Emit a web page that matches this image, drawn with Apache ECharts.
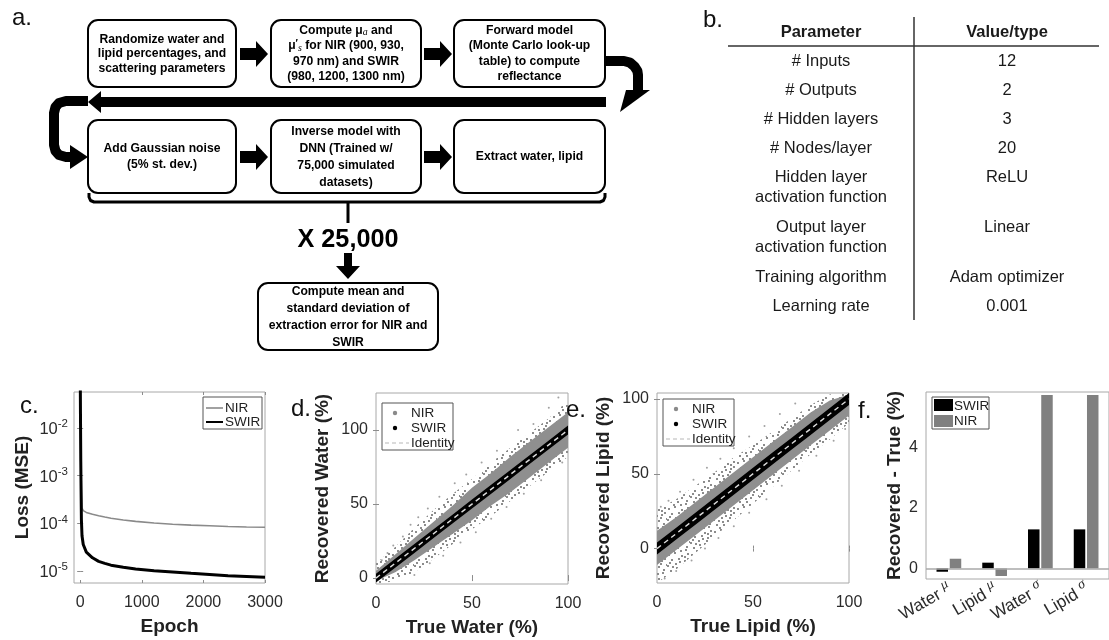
<!DOCTYPE html>
<html>
<head>
<meta charset="utf-8">
<script src="https://cdn.jsdelivr.net/npm/echarts@6/dist/echarts.min.js"></script>
<style>
  html, body { margin: 0; padding: 0; background: #fff; }
  #chart { width: 1109px; height: 640px; }
</style>
</head>
<body>
<div id="chart"></div>
<script>
// ---- c. training loss (MSE) per epoch ----
const epochs   = [0, 5, 10, 20, 30, 50, 100, 200, 300, 400, 500, 700, 900, 1200, 1500, 1800, 2100, 2400, 2700, 3000];
const lossNIR  = [0.3, 0.02, 0.003, 5e-4, 2.1e-4, 1.85e-4, 1.7e-4, 1.55e-4, 1.45e-4, 1.36e-4, 1.28e-4, 1.18e-4, 1.1e-4, 1.02e-4, 9.6e-5, 9.2e-5, 8.9e-5, 8.6e-5, 8.4e-5, 8.3e-5];
const lossSWIR = [0.3, 0.02, 0.002, 1.2e-4, 5.5e-5, 3.6e-5, 2.5e-5, 1.9e-5, 1.6e-5, 1.45e-5, 1.33e-5, 1.2e-5, 1.1e-5, 1.02e-5, 9.6e-6, 9.0e-6, 8.5e-6, 8.0e-6, 7.7e-6, 7.4e-6];
const lossTicks = [-5, -4, -3, -2];          // log10 tick positions
const epochTicks = [0, 1000, 2000, 3000];

// ---- d./e. recovered vs true (%), spread of the 25,000 extractions ----
const truePct = [0, 10, 20, 30, 40, 50, 60, 70, 80, 90, 100];
const waterNirOuterLo = [-4, -2, 4, 13, 23, 33, 42, 52, 62, 72, 82];
const waterNirOuterHi = [10, 21, 34, 46, 57, 67, 78, 88, 98, 108, 120];
const waterNirCoreLo  = [-2, 4, 12, 21, 30, 39, 49, 58, 68, 78, 88];
const waterNirCoreHi  = [5, 16, 27, 38, 49, 61, 71, 82, 92, 102, 112];
const waterSwirLo     = [-3, 7, 17, 27, 37, 47, 57, 67, 77, 87, 97];
const waterSwirHi     = [3, 13, 23, 33, 43, 53, 63, 73, 83, 93, 103];
const waterNirStray   = [[3,12],[6,17],[9,22],[14,28],[18,36],[22,41],[27,47],[33,55],[41,64],[47,70],[55,78],[63,86],[74,100],[82,104],[90,115],[95,122],
                         [20,2],[28,10],[35,15],[44,24],[52,31],[60,40],[68,48],[77,57],[86,66],[97,78]];
const lipidNirOuterLo = [-23, -14, -3, 8, 19, 30, 41, 52, 63, 73, 84];
const lipidNirOuterHi = [26, 33, 42, 51, 61, 69, 78, 87, 96, 103, 106];
const lipidNirCoreLo  = [-11, -1, 9, 19, 29, 39, 49, 59, 69, 79, 89];
const lipidNirCoreHi  = [12, 21, 31, 41, 51, 61, 71, 81, 91, 99, 103];
const lipidSwirLo     = [-4, 6, 16, 26, 36, 46, 56, 66, 76, 86, 96];
const lipidSwirHi     = [4, 14, 24, 34, 44, 54, 64, 74, 84, 94, 104];
const lipidNirStray   = [[2,28],[6,32],[12,38],[19,46],[26,54],[33,60],[40,67],[48,75],[56,82],[64,90],[72,97],
                         [4,-20],[10,-15],[18,-8],[25,0],[32,7],[40,15],[48,24],[57,33],[65,42],[74,52],[83,62],[92,72],[98,80]];
const identityLine = [[0, 0], [100, 100]];
const pctTicks = [0, 50, 100];

// ---- f. extraction error (recovered - true, %) ----
const errCategories = ['Water μ', 'Lipid μ', 'Water σ', 'Lipid σ'];
const errSWIR = [-0.11, 0.19, 1.29, 1.29];
const errNIR  = [0.32, -0.25, 5.73, 5.73];
const errTicks = [0, 2, 4];

// ---- b. network parameters ----
const paramNames  = ['# Inputs', '# Outputs', '# Hidden layers', '# Nodes/layer', 'Hidden layer\nactivation function', 'Output layer\nactivation function', 'Training algorithm', 'Learning rate'];
const paramValues = ['12', '2', '3', '20', 'ReLU', 'Linear', 'Adam optimizer', '0.001'];

// ---------------------------------------------------------------
const FONT = '"Liberation Sans", Arial, sans-serif';
const BOX_COLOR = '#a8a8a8';
const GREY = '#8a8a8a';

const chart = echarts.init(document.getElementById('chart'), null, { renderer: 'canvas' });

// stippled fill used for the sparse fringe of the NIR cloud
function speckle(color, size, dots) {
  const c = document.createElement('canvas');
  c.width = c.height = size;
  const g = c.getContext('2d');
  g.fillStyle = color;
  dots.forEach(([x, y]) => g.fillRect(x, y, 2, 2));
  return { image: c, repeat: 'repeat' };
}
const sparseDots = speckle('#8c8c8c', 23, [
  [1,2],[7,0],[14,3],[20,1],[4,7],[11,6],[17,8],[22,12],[0,13],[8,11],[14,14],[3,18],
  [10,18],[19,17],[6,21],[13,21],[17,4],[2,10],[9,15],[16,11],[20,6],[12,9],[5,14],[18,20]
]);

function band(idx, lo, hi, fill, z) {
  return {
    type: 'custom', xAxisIndex: idx, yAxisIndex: idx, clip: true, silent: true, z,
    data: truePct.map((x, i) => [x, lo[i], hi[i]]),
    renderItem(params, api) {
      if (params.dataIndex !== 0) return null;
      const pts = [];
      for (let i = 0; i < truePct.length; i++) pts.push(api.coord([truePct[i], hi[i]]));
      for (let i = truePct.length - 1; i >= 0; i--) pts.push(api.coord([truePct[i], lo[i]]));
      return { type: 'polygon', shape: { points: pts }, style: { fill } };
    }
  };
}

const tickStyle = { inside: true, length: 3, lineStyle: { color: '#8c8c8c' } };
const labelStyle = { color: '#2b2b2b', fontSize: 16, fontFamily: FONT };
const nameStyle = { color: '#222', fontSize: 19, fontWeight: 'bold', fontFamily: FONT };

function valueAxis(gridIndex, min, max, ticks, extra) {
  return Object.assign({
    type: 'value', gridIndex, min, max,
    axisLine: { show: false }, splitLine: { show: false },
    axisTick: Object.assign({ customValues: ticks }, tickStyle),
    axisLabel: Object.assign({ customValues: ticks, margin: 8, formatter: (v) => String(v) }, labelStyle),
    nameLocation: 'middle', nameTextStyle: nameStyle
  }, extra || {});
}
// tick-only axis on the opposite side of a box
function mirrorAxis(gridIndex, min, max, ticks, position) {
  return {
    type: 'value', gridIndex, min, max, position,
    axisLine: { show: false }, splitLine: { show: false }, axisLabel: { show: false },
    axisTick: Object.assign({ customValues: ticks }, tickStyle)
  };
}

const supRich = {
  b: { fontSize: 16.5, fontFamily: FONT, color: '#2b2b2b', lineHeight: 20, verticalAlign: 'bottom' },
  s: { fontSize: 11.5, fontFamily: FONT, color: '#2b2b2b', lineHeight: 11, verticalAlign: 'top' }
};

const option = {
  animation: false,
  backgroundColor: '#fff',
  grid: [
    { left: 74, top: 392, width: 191, height: 191, show: true, borderColor: BOX_COLOR, borderWidth: 1 },
    { left: 376, top: 393, width: 192, height: 191, show: true, borderColor: BOX_COLOR, borderWidth: 1 },
    { left: 657, top: 393, width: 192, height: 190, show: true, borderColor: BOX_COLOR, borderWidth: 1 },
    { left: 926, top: 392, width: 189, height: 187, show: true, borderColor: BOX_COLOR, borderWidth: 1 }
  ],
  xAxis: [
    valueAxis(0, -100, 3000, epochTicks, { name: 'Epoch', nameGap: 34, axisLabel: Object.assign({ customValues: epochTicks, margin: 12, formatter: (v) => String(v) }, labelStyle) }),
    valueAxis(1, 0, 100, pctTicks, { name: 'True Water (%)', nameGap: 34, axisLabel: Object.assign({ customValues: pctTicks, margin: 12 }, labelStyle) }),
    valueAxis(2, 0, 100, pctTicks, { name: 'True Lipid (%)', nameGap: 34, axisLabel: Object.assign({ customValues: pctTicks, margin: 12 }, labelStyle) }),
    {
      type: 'category', gridIndex: 3, data: errCategories,
      axisLine: { show: false }, splitLine: { show: false },
      axisTick: Object.assign({ alignWithLabel: true }, tickStyle),
      axisLabel: {
        rotate: 30, margin: 7, interval: 0,
        formatter: (v) => { const p = v.split(' '); return '{t|' + p[0] + ' }{g|' + p[1] + '}'; },
        rich: {
          t: { fontSize: 17, fontFamily: FONT, color: '#2b2b2b', lineHeight: 21, verticalAlign: 'bottom' },
          g: { fontSize: 14, fontFamily: '"Liberation Serif", serif', fontStyle: 'italic', color: '#2b2b2b', lineHeight: 14, verticalAlign: 'top' }
        }
      }
    },
    mirrorAxis(0, -100, 3000, epochTicks, 'top'),
    mirrorAxis(1, 0, 100, pctTicks, 'top'),
    mirrorAxis(2, 0, 100, pctTicks, 'top')
  ],
  yAxis: [
    valueAxis(0, -5.25, -1.245, lossTicks, {
      name: 'Loss (MSE)', nameGap: 42,
      axisLabel: { customValues: lossTicks, margin: 6, formatter: (v) => '{b|10}{s|' + Math.round(v) + '}', rich: supRich }
    }),
    valueAxis(1, -4, 125, pctTicks, { name: 'Recovered Water (%)', nameGap: 44 }),
    valueAxis(2, -23, 104, pctTicks, { name: 'Recovered Lipid (%)', nameGap: 44 }),
    valueAxis(3, -0.35, 5.83, errTicks, { name: 'Recovered - True (%)', nameGap: 22 }),
    mirrorAxis(0, -5.25, -1.245, lossTicks, 'right'),
    mirrorAxis(1, -4, 125, pctTicks, 'right'),
    mirrorAxis(2, -23, 104, pctTicks, 'right')
  ],
  series: [
    // c.
    { type: 'line', xAxisIndex: 0, yAxisIndex: 0, showSymbol: false, clip: true, z: 3,
      data: epochs.map((e, i) => [e, Math.log10(lossNIR[i])]), lineStyle: { color: GREY, width: 1.6 } },
    { type: 'line', xAxisIndex: 0, yAxisIndex: 0, showSymbol: false, clip: true, z: 4,
      data: epochs.map((e, i) => [e, Math.log10(lossSWIR[i])]), lineStyle: { color: '#000', width: 3 } },

    // d.
    band(1, waterNirOuterLo, waterNirOuterHi, sparseDots, 2),
    band(1, waterNirCoreLo, waterNirCoreHi, '#8f8f8f', 3),
    { type: 'scatter', xAxisIndex: 1, yAxisIndex: 1, symbolSize: 2, itemStyle: { color: GREY }, data: waterNirStray, z: 3, silent: true },
    band(1, waterSwirLo, waterSwirHi, '#000', 4),
    { type: 'line', xAxisIndex: 1, yAxisIndex: 1, showSymbol: false, data: identityLine, z: 5,
      lineStyle: { color: '#dcdcdc', width: 1.4, type: [5, 4] } },

    // e.
    band(2, lipidNirOuterLo, lipidNirOuterHi, sparseDots, 2),
    band(2, lipidNirCoreLo, lipidNirCoreHi, '#8f8f8f', 3),
    { type: 'scatter', xAxisIndex: 2, yAxisIndex: 2, symbolSize: 2, itemStyle: { color: GREY }, data: lipidNirStray, z: 3, silent: true },
    band(2, lipidSwirLo, lipidSwirHi, '#000', 4),
    { type: 'line', xAxisIndex: 2, yAxisIndex: 2, showSymbol: false, data: identityLine, z: 5,
      lineStyle: { color: '#dcdcdc', width: 1.4, type: [5, 4] } },

    // f.
    { type: 'bar', xAxisIndex: 3, yAxisIndex: 3, name: 'SWIR', data: errSWIR, barWidth: 11.5, barGap: '15%',
      itemStyle: { color: '#000' },
      markLine: { silent: true, symbol: 'none', label: { show: false }, lineStyle: { color: '#a8a8a8', width: 1.5, type: 'solid' }, data: [{ yAxis: 0 }] } },
    { type: 'bar', xAxisIndex: 3, yAxisIndex: 3, name: 'NIR', data: errNIR, barWidth: 11.5, itemStyle: { color: '#808080' } }
  ],
  graphic: []
};

// ---------- drawing helpers for flowchart, table, legends, panel letters ----------
const G = option.graphic;
function text(x, y, str, o, scaleX) {
  G.push({ type: 'text', x, y, z: 100, silent: true, scaleX: scaleX || 1,
    style: Object.assign({ text: str, fill: '#000', font: '16px ' + FONT, align: 'center', verticalAlign: 'middle' }, o || {}) });
}
function rect(x, y, w, h, style, r) {
  G.push({ type: 'rect', z: 99, silent: true, shape: { x, y, width: w, height: h, r: r || 0 }, style });
}
function poly(points, fill) {
  G.push({ type: 'polygon', z: 99, silent: true, shape: { points }, style: { fill } });
}
function polyline(points, style) {
  G.push({ type: 'polyline', z: 99, silent: true, shape: { points }, style: Object.assign({ fill: null, lineJoin: 'round' }, style) });
}
function line(x1, y1, x2, y2, style) {
  G.push({ type: 'line', z: 100, silent: true, shape: { x1, y1, x2, y2 }, style });
}

// panel letters
[['a.', 12, 18], ['b.', 703, 20], ['c.', 20, 406], ['d.', 291, 409], ['e.', 566, 410], ['f.', 858, 411]]
  .forEach(([s, x, y]) => text(x, y, s, { font: '24px ' + FONT, align: 'left', fill: '#111' }));

// ---- a. flowchart ----
const flowRich = {
  sub: { font: 'italic 11px "Liberation Serif", serif', lineHeight: 8, verticalAlign: 'bottom' },
  sup: { font: 'bold 11px ' + FONT, lineHeight: 8, verticalAlign: 'top' }
};
function flowBox(x, y, w, h, str, lh) {
  rect(x, y, w, h, { fill: '#fff', stroke: '#000', lineWidth: 2 }, 10);
  text(x + w / 2, y + h / 2, str, { font: 'bold 13.5px ' + FONT, lineHeight: lh || 15, rich: flowRich }, 0.9);
}
function rightArrow(x, cy) {
  poly([[x, cy - 6], [x + 16, cy - 6], [x + 16, cy - 13], [x + 28, cy], [x + 16, cy + 13], [x + 16, cy + 6], [x, cy + 6]], '#000');
}
flowBox(88, 20, 148, 67, 'Randomize water and\nlipid percentages, and\nscattering parameters', 14.5);
flowBox(271, 20, 150, 67, 'Compute μ{sub|a} and\nμ{sup|′}{sub|s} for NIR (900, 930,\n970 nm) and SWIR\n(980, 1200, 1300 nm)', 15.5);
flowBox(454, 20, 151, 67, 'Forward model\n(Monte Carlo look-up\ntable) to compute\nreflectance', 15.5);
flowBox(88, 120, 148, 73, 'Add Gaussian noise\n(5% st. dev.)', 16.5);
flowBox(271, 120, 150, 73, 'Inverse model with\nDNN (Trained w/\n75,000 simulated\ndatasets)', 17);
flowBox(454, 120, 151, 73, 'Extract water, lipid');
flowBox(258, 283, 180, 67, 'Compute mean and\nstandard deviation of\nextraction error for NIR and\nSWIR', 17);
rightArrow(240, 54); rightArrow(424, 54);
rightArrow(240, 157); rightArrow(424, 157);
// long return arrow
poly([[606, 97], [101, 97], [101, 91], [88, 102], [101, 113], [101, 107], [606, 107]], '#000');
// curved arrow on the right
polyline([[605, 61], [624, 61], [630, 62.6], [634.5, 66.5], [637.4, 71], [638, 75], [638, 92]], { stroke: '#000', lineWidth: 10 });
poly([[626, 90], [650, 90], [620, 112]], '#000');
// curved arrow on the left
polyline([[88, 101], [66, 101], [59, 103], [55.5, 107], [54, 113], [54, 145], [55.5, 151], [59, 155], [66, 157], [72, 157]], { stroke: '#000', lineWidth: 10 });
poly([[70, 145], [88, 157], [70, 169]], '#000');
// brace under the loop
polyline([[89, 193], [89, 197], [90.5, 200.5], [94, 202], [600, 202], [603.5, 200.5], [605, 197], [605, 193]], { stroke: '#000', lineWidth: 3 });
line(348, 202, 348, 223, { stroke: '#000', lineWidth: 3 });
text(348, 240, 'X 25,000', { font: 'bold 26px ' + FONT }, 0.97);
poly([[344, 253], [352, 253], [352, 266], [360, 266], [348, 279], [336, 266], [344, 266]], '#000');

// ---- b. table ----
text(821, 32, 'Parameter', { font: 'bold 16.5px ' + FONT, fill: '#1a1a1a' });
text(1007, 32, 'Value/type', { font: 'bold 16.5px ' + FONT, fill: '#1a1a1a' });
line(728, 46, 1099, 46, { stroke: '#333', lineWidth: 1.5 });
line(914, 17, 914, 320, { stroke: '#333', lineWidth: 1.5 });
let rowTop = 51;
paramNames.forEach((nm, i) => {
  text(821, rowTop, nm, { font: '16.5px ' + FONT, fill: '#1a1a1a', verticalAlign: 'top', lineHeight: 20 });
  text(1007, rowTop, paramValues[i], { font: '16.5px ' + FONT, fill: '#1a1a1a', verticalAlign: 'top', lineHeight: 20 });
  rowTop += nm.includes('\n') ? 50 : 29;
});

// ---- legends ----
const legText = { font: '13.5px ' + FONT, fill: '#222', align: 'left' };
const legBox = { fill: '#fff', stroke: '#555', lineWidth: 1 };
// c.
rect(203, 397, 59, 32, legBox);
line(206, 408, 223, 408, { stroke: GREY, lineWidth: 1.6 });
line(206, 422, 223, 422, { stroke: '#000', lineWidth: 2 });
text(225, 408, 'NIR', legText); text(225, 422, 'SWIR', legText);
// d. and e.
[[382, 403], [663, 399]].forEach(([lx, ly]) => {
  rect(lx, ly, 71, 47, legBox);
  G.push({ type: 'circle', z: 100, silent: true, shape: { cx: lx + 13, cy: ly + 10, r: 2.2 }, style: { fill: GREY } });
  G.push({ type: 'circle', z: 100, silent: true, shape: { cx: lx + 13, cy: ly + 25, r: 2.2 }, style: { fill: '#000' } });
  line(lx + 3, ly + 40, lx + 27, ly + 40, { stroke: '#d0d0d0', lineWidth: 1.3, lineDash: [4, 3] });
  text(lx + 29, ly + 10, 'NIR', legText);
  text(lx + 29, ly + 25, 'SWIR', legText);
  text(lx + 29, ly + 40, 'Identity', legText);
});
// f.
rect(932, 397, 57, 32, legBox);
rect(934, 399, 19, 12, { fill: '#000' });
rect(934, 415, 19, 12, { fill: '#808080' });
text(954, 406, 'SWIR', legText); text(954, 421, 'NIR', legText);

chart.setOption(option);
</script>
</body>
</html>
